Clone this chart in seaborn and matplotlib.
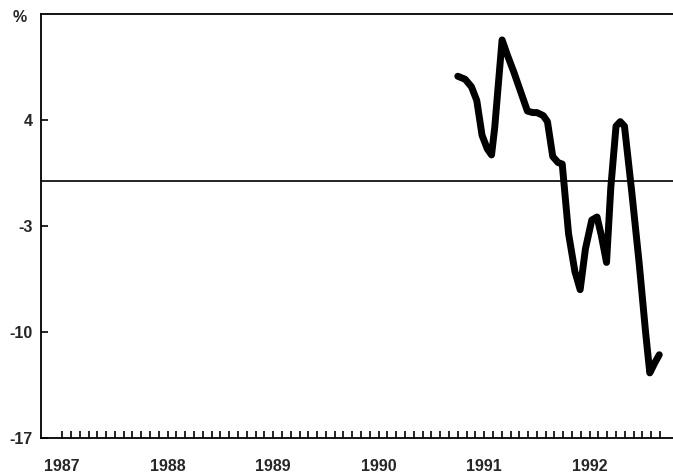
import pandas as pd
import matplotlib.pyplot as plt
import matplotlib.ticker as mticker
import seaborn as sns

# values (decimal year, percent)
dates = [1990.75, 1990.82, 1990.88, 1990.93, 1990.98, 1991.03, 1991.07, 1991.10,
         1991.13, 1991.17, 1991.22, 1991.28, 1991.34, 1991.41, 1991.46, 1991.50,
         1991.56, 1991.60, 1991.65, 1991.70, 1991.74, 1991.80, 1991.86, 1991.91,
         1991.96, 1992.02, 1992.07, 1992.11, 1992.16, 1992.20, 1992.25, 1992.29,
         1992.33, 1992.40, 1992.47, 1992.53, 1992.57, 1992.62, 1992.66]
values = [6.9, 6.7, 6.2, 5.3, 3.0, 2.1, 1.7, 3.5,
          6.0, 9.3, 8.3, 7.2, 6.0, 4.6, 4.5, 4.5,
          4.3, 3.9, 1.6, 1.2, 1.1, -3.5, -6.0, -7.2,
          -4.5, -2.6, -2.4, -3.6, -5.4, -0.5, 3.6, 3.9,
          3.6, -0.8, -5.5, -10.0, -12.7, -12.0, -11.5]

year_ticks = [1987, 1988, 1989, 1990, 1991, 1992]
y_ticks = [4, -3, -10, -17]
# monthly ticks Jan 1987 .. Sep 1992
month_ticks = [1987 + m / 12 for m in range(69)]

df = pd.DataFrame({'date': dates, 'pct': values})

sns.set_style("white")
plt.rcParams['font.family'] = ['Liberation Sans', 'DejaVu Sans']
plt.rcParams['axes.unicode_minus'] = False

fig = plt.figure(figsize=(6.73, 4.73), dpi=100)
ax = fig.add_axes([0.061, 0.074, 0.939, 0.896])

sns.lineplot(ax=ax, data=df, x='date', y='pct', color='black', lw=5,
             solid_joinstyle='round', solid_capstyle='round')
ax.axhline(y=0, color='black', lw=1.2)

ax.set_xlim(1986.80, 1992.79)
ax.set_ylim(-17, 11)
ax.set_xticks(year_ticks)
ax.set_xticklabels([str(y) for y in year_ticks])
ax.xaxis.set_minor_locator(mticker.FixedLocator(month_ticks))
ax.set_yticks(y_ticks)
ax.set(xlabel='', ylabel='')

ax.tick_params(axis='x', which='both', direction='in', length=5, width=1.2,
               color='black', pad=15, labelsize=11.5, bottom=True, top=False)
ax.tick_params(axis='y', direction='in', length=5, width=1.2, color='black',
               pad=6, labelsize=11.5, left=True, right=False)
for lab in ax.get_xticklabels() + ax.get_yticklabels():
    lab.set_fontweight('bold')

for side in ['left', 'bottom', 'top']:
    ax.spines[side].set_color('black')
    ax.spines[side].set_linewidth(1.3)
ax.spines['right'].set_visible(False)

fig.text(20 / 673, 1 - 18 / 473, '%', ha='center', va='center',
         fontsize=11.5, fontweight='bold')

fig.savefig('out.png', dpi=100)
